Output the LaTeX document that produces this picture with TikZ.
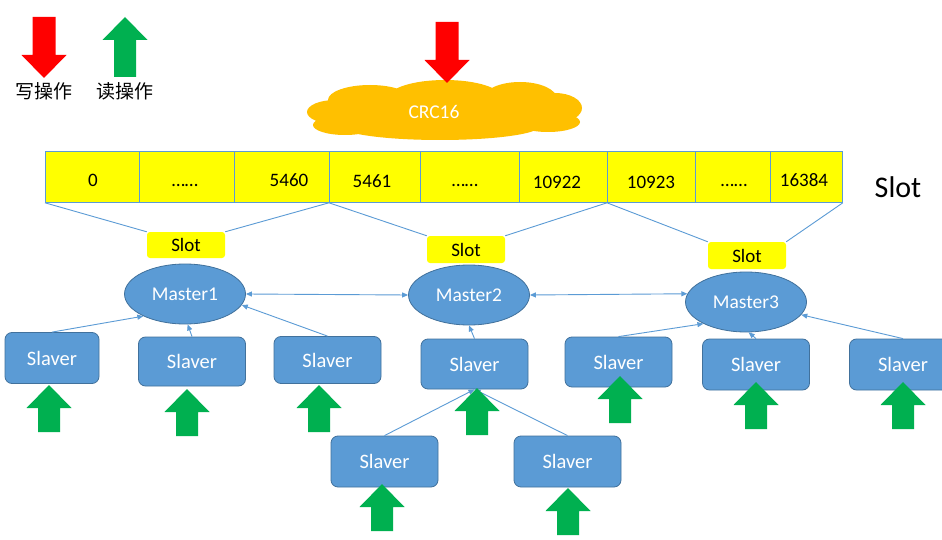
\documentclass[tikz,border=0pt]{standalone}
\usepackage{fontspec}
\setmainfont{Carlito}
\newfontfamily\cjk{Noto Sans CJK SC}
\usetikzlibrary{shapes.geometric,arrows.meta}
\definecolor{bluefill}{HTML}{5B9BD5}
\definecolor{bluedraw}{HTML}{41719C}
\definecolor{garrow}{HTML}{00B050}
\definecolor{rarrow}{HTML}{FF0000}
\definecolor{cloudc}{HTML}{FFC000}
\definecolor{slotc}{HTML}{FFFF00}
\begin{document}
\begin{tikzpicture}[x=1pt,y=-1pt,
 cell/.style={draw=bluefill, line width=0.8pt, fill=slotc, anchor=north west, minimum height=51pt, inner sep=0pt},
 num/.style={font=\fontsize{19}{19}\selectfont, anchor=base, inner sep=0pt},
 slotlbl/.style={fill=slotc, rounded corners=3pt, minimum width=78pt, minimum height=26pt, inner sep=0pt, font=\fontsize{19}{19}\selectfont},
 master/.style={ellipse, fill=bluefill, draw=bluedraw, line width=0.8pt, minimum width=121pt, minimum height=60pt, inner sep=0pt, text=white, font=\fontsize{19.5}{19.5}\selectfont},
 slave/.style={rectangle, rounded corners=7pt, fill=bluefill, draw=bluedraw, line width=0.8pt, minimum width=107pt, minimum height=50pt, inner sep=0pt, text=white, font=\fontsize{20.5}{20.5}\selectfont},
 link/.style={draw=bluefill, line width=0.9pt},
 arr/.style={link, -{Triangle[length=6pt,width=5pt]}},
 darr/.style={link, {Triangle[length=6pt,width=5pt]}-{Triangle[length=6pt,width=5pt]}},
 upg/.pic={\fill[garrow] (0,0) -- (22.5,23) -- (11,23) -- (11,47) -- (-11,47) -- (-11,23) -- (-22.5,23) -- cycle;},
 downr/.pic={\fill[rarrow] (0,0) -- (22.5,-23) -- (11.5,-23) -- (11.5,-61) -- (-11.5,-61) -- (-11.5,-23) -- (-22.5,-23) -- cycle;},
]
\useasboundingbox (0,0) rectangle (942,540);
\clip (0,0) rectangle (942,540);
\fill[white] (0,0) rectangle (942,540);

% legend
\pic at (44,78) {downr};
\fill[garrow] (125,17) -- (147.5,40) -- (136,40) -- (136,77) -- (114,77) -- (114,40) -- (102.5,40) -- cycle;
\node[font=\cjk\fontsize{19}{19}\selectfont, inner sep=0pt] (wr) at (44,91) {写操作};
\node[font=\cjk\fontsize{19}{19}\selectfont, inner sep=0pt] (rd) at (125,91) {读操作};

% cloud
\fill[cloudc]
  (335,112) ellipse [x radius=28, y radius=12]
  (345,125) ellipse [x radius=32, y radius=10]
  (370,100) ellipse [x radius=42, y radius=15]
  (445,98) ellipse [x radius=57, y radius=18]
  (520,99) ellipse [x radius=37, y radius=17]
  (555,108) ellipse [x radius=27, y radius=15]
  (548,122) ellipse [x radius=32, y radius=10]
  (440,126) ellipse [x radius=100, y radius=14]
  (445,112) ellipse [x radius=112, y radius=20];
\node[text=white, font=\fontsize{19.5}{19.5}\selectfont, inner sep=0pt] (crc) at (434,112) {CRC16};
\pic at (447,83) {downr};

% slot bar
\node[cell, minimum width=94pt] (c1) at (45,151) {};
\node[cell, minimum width=95pt] (c2) at (139,151) {};
\node[cell, minimum width=95pt] (c3) at (234,151) {};
\node[cell, minimum width=91pt] (c4) at (329,151) {};
\node[cell, minimum width=99pt] (c5) at (420,151) {};
\node[cell, minimum width=88pt] (c6) at (519,151) {};
\node[cell, minimum width=88pt] (c7) at (607,151) {};
\node[cell, minimum width=75pt] (c8) at (695,151) {};
\node[cell, minimum width=72pt] (c9) at (770,151) {};
\node[num] (t1) at (93,186) {0};
\node[num] (t2) at (185,187) {……};
\node[num] (t3) at (289,186) {5460};
\node[num] (t4) at (372,188) {5461};
\node[num] (t5) at (465,187) {……};
\node[num] (t6) at (557,189) {10922};
\node[num] (t7) at (651,189) {10923};
\node[num] (t8) at (734,187) {……};
\node[num] (t9) at (804,186) {16384};
\node[font=\fontsize{30}{30}\selectfont, inner sep=0pt] (slotbig) at (898,187) {Slot};

% slot labels
\node[slotlbl] (sl1) at (186,245) {Slot};
\node[slotlbl, minimum height=27pt] (sl2) at (466,249.5) {Slot};
\node[slotlbl, minimum height=27pt] (sl3) at (747,255.5) {Slot};
\draw[link] (c1.south west) -- (sl1.north west);
\draw[link] (sl1.north east) -- (c4.south west);
\draw[link] (c4.south west) -- (sl2.north west);
\draw[link] (sl2.north east) -- (c7.south west);
\draw[link] (c7.south west) -- (sl3.north west);
\draw[link] (sl3.north east) -- (c9.south east);

% masters
\node[master] (m1) at (185,294) {Master1};
\node[master] (m2) at (469,295) {Master2};
\node[master] (m3) at (746,302) {Master3};

% slaves
\node[slave, minimum width=94pt, minimum height=51pt] (s1) at (52,358) {Slaver};
\node[slave, minimum height=49pt] (s2) at (192,361.5) {Slaver};
\node[slave, minimum height=47pt] (s3) at (327.5,360) {Slaver};
\node[slave] (s4) at (474.5,364) {Slaver};
\node[slave] (s5) at (618.5,362) {Slaver};
\node[slave, minimum height=51pt] (s6) at (756,364.5) {Slaver};
\node[slave, minimum height=51pt] (s7) at (903,364.5) {Slaver};
\node[slave, minimum height=51pt] (s8) at (384.5,461.5) {Slaver};
\node[slave, minimum height=51pt] (s9) at (567.5,461.5) {Slaver};

% connectors
\draw[darr] (m1.east) -- (m2.west);
\draw[darr] (m2.east) -- (m3.172);
\draw[arr] (s1.north) -- (m1.208);
\draw[arr] (s2.north) -- (m1.275);
\draw[arr] (s3.north) -- (m1.349);
\draw[arr] (s4.north) -- (m2.south);
\draw[arr] (s5.north) -- (m3.207);
\draw[arr] (s6.north) -- (m3.275);
\draw[arr] (s7.north) -- (m3.347);
\draw[arr] (s8.north) -- (s4.south);
\draw[arr] (s9.north) -- (s4.south);

% read arrows
\pic at (49,385) {upg};
\pic at (187,389) {upg};
\pic at (319,385) {upg};
\pic at (477,388) {upg};
\pic at (620,376) {upg};
\pic at (756,382) {upg};
\pic at (903,382) {upg};
\pic at (382,484) {upg};
\pic at (568,488) {upg};
\end{tikzpicture}
\end{document}
